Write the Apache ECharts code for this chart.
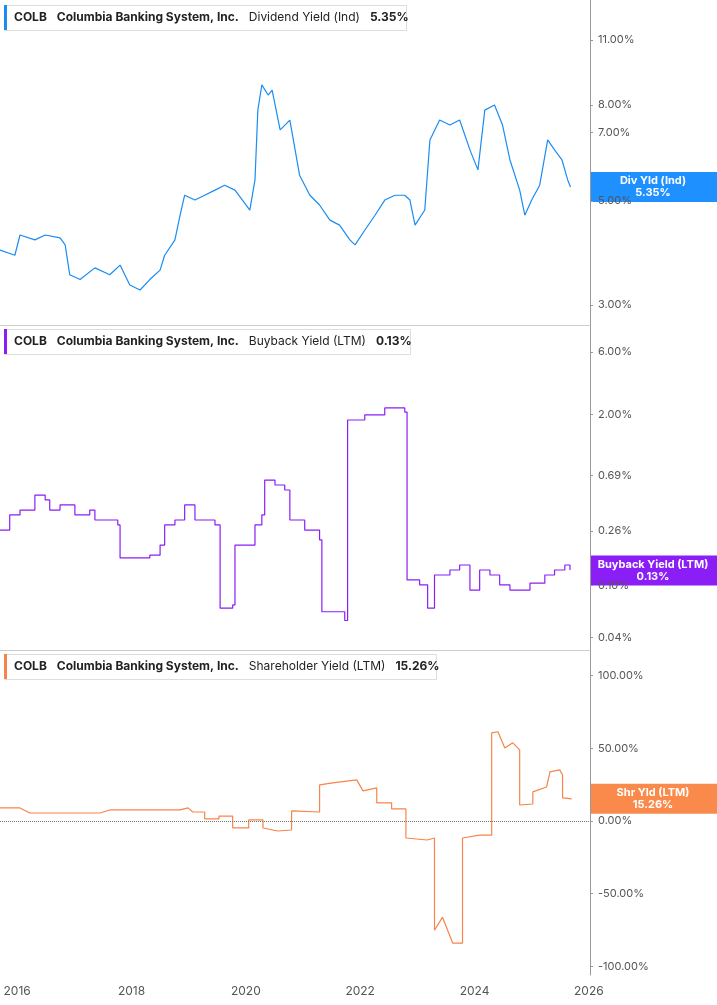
<!DOCTYPE html>
<html><head><meta charset="utf-8">
<script src="https://cdn.jsdelivr.net/npm/echarts@6/dist/echarts.min.js"></script>
<style>html,body{margin:0;padding:0;background:#fff}#c{width:717px;height:1005px}</style>
</head><body><div id="c"></div>
<script>
// ---- data ----
const divYears = [2015.70,2015.96,2016.05,2016.31,2016.49,2016.75,2016.84,2016.92,2017.10,2017.36,2017.62,2017.80,2017.97,2018.15,2018.32,2018.50,2018.58,2018.76,2018.85,2018.93,2019.11,2019.28,2019.46,2019.63,2019.81,2020.07,2020.16,2020.21,2020.28,2020.39,2020.46,2020.60,2020.77,2020.94,2021.12,2021.29,2021.47,2021.64,2021.82,2021.91,2022.08,2022.26,2022.43,2022.61,2022.78,2022.87,2022.96,2023.13,2023.22,2023.39,2023.57,2023.74,2023.92,2024.06,2024.18,2024.35,2024.49,2024.62,2024.79,2024.88,2025.00,2025.14,2025.28,2025.40,2025.53,2025.63,2025.68];
const divValues = [3.93,3.83,4.23,4.13,4.23,4.17,4.03,3.48,3.40,3.60,3.48,3.65,3.31,3.23,3.40,3.56,3.83,4.13,4.66,5.14,5.02,5.14,5.27,5.40,5.27,4.78,5.54,7.80,8.83,8.40,8.60,7.08,7.43,5.67,5.14,4.90,4.55,4.44,4.13,4.03,4.33,4.66,5.02,5.14,5.14,5.02,4.44,4.78,6.74,7.43,7.25,7.43,6.42,5.82,7.80,8.00,7.25,6.11,5.27,4.66,5.02,5.40,6.74,6.42,6.11,5.54,5.35];
const bbYears = [2015.70,2015.87,2016.05,2016.31,2016.49,2016.57,2016.75,2017.01,2017.27,2017.36,2017.76,2017.80,2018.32,2018.50,2018.58,2018.76,2018.93,2019.11,2019.46,2019.55,2019.77,2019.81,2020.07,2020.16,2020.28,2020.33,2020.51,2020.68,2020.77,2021.03,2021.29,2021.33,2021.73,2021.78,2022.08,2022.43,2022.78,2022.82,2023.04,2023.18,2023.30,2023.57,2023.74,2023.92,2024.09,2024.27,2024.44,2024.62,2024.79,2024.97,2025.23,2025.40,2025.58,2025.67];
const bbValues = [0.264,0.344,0.375,0.488,0.448,0.375,0.410,0.344,0.375,0.315,0.289,0.162,0.170,0.203,0.289,0.315,0.410,0.315,0.289,0.067,0.071,0.203,0.203,0.289,0.344,0.635,0.582,0.533,0.315,0.264,0.222,0.063,0.054,1.82,1.99,2.25,2.09,0.110,0.101,0.067,0.120,0.131,0.143,0.092,0.131,0.120,0.101,0.092,0.092,0.104,0.120,0.131,0.143,0.131];
const shYears = [2015.70,2016.05,2016.22,2017.45,2017.62,2018.85,2018.99,2019.07,2019.28,2019.28,2019.53,2019.53,2019.77,2019.77,2020.05,2020.05,2020.30,2020.30,2020.56,2020.80,2020.80,2021.29,2021.29,2021.52,2021.94,2022.05,2022.29,2022.29,2022.55,2022.55,2022.80,2022.80,2023.17,2023.30,2023.30,2023.44,2023.62,2023.79,2023.79,2024.09,2024.30,2024.30,2024.41,2024.53,2024.67,2024.79,2024.79,2025.02,2025.02,2025.26,2025.32,2025.49,2025.54,2025.54,2025.70];
const shValues = [9.0,9.0,5.5,5.5,7.6,7.6,9.0,6.2,6.2,1.4,1.4,3.4,3.4,-4.8,-4.8,0.7,0.7,-4.8,-6.9,-6.2,6.9,6.2,24.8,26.2,28.3,20.7,22.8,12.4,12.4,8.3,8.3,-11.7,-13.1,-11.7,-75.2,-66.2,-84.1,-84.1,-11.7,-9.7,-9.7,60.7,61.4,50.3,53.8,49.0,11.0,11.7,20.0,23.4,33.8,35.2,31.7,15.9,15.26];
const divTicks = [11,8,7,5,3];
const bbTicks = [6,2,0.69,0.26,0.10,0.04];
const shTicks = [100,50,0,-50,-100];
const yearTicks = [2016,2018,2020,2022,2024,2026];
const divLast = 5.35, bbLast = 0.13, shLast = 15.26;
// ---- chart ----
const C1='#1a8cf2', C2='#8a1ef5', C3='#f7844a';
const chart = echarts.init(document.getElementById('c'));
const font = 'Inter, "Noto Sans", sans-serif';
const xMin = 2015.70, xMax = 2026.02;
function xAxis(i, show){
  return {type:'value', gridIndex:i, min:xMin, max:xMax,
    axisLine:{show:false, onZero:false}, splitLine:{show:false},
    axisTick:{show:false},
    axisLabel:{show:show, customValues:yearTicks, color:'#555', fontSize:12, fontFamily:font, margin:10, formatter:v=>String(Math.round(v))}};
}
function yAxis(i, min, max, ticks, log){
  return {type:'value', gridIndex:i, position:'right', min:min, max:max,
    axisLine:{show:true, lineStyle:{color:'#999'}}, splitLine:{show:false},
    axisTick:{show:true, length:3, customValues: ticks.map(t=>log?Math.log(t):t), lineStyle:{color:'#999'}},
    axisLabel:{customValues: ticks.map(t=>log?Math.log(t):t), color:'#555', fontSize:11, fontFamily:font, margin:8,
      formatter:v=>(log?Math.exp(v):v).toFixed(2)+'%'}};
}
const grids=[{left:0,right:127,top:0,height:325},{left:0,right:127,top:326,height:324},{left:0,right:127,top:651,height:324}];
chart.setOption({
  animation:false,
  grid:grids,
  xAxis:[xAxis(0,false),xAxis(1,false),xAxis(2,true)],
  yAxis:[yAxis(0,1.001,2.594,divTicks,true), yAxis(1,-3.436,2.248,bbTicks,true), yAxis(2,-106,117,shTicks,false)],
  series:[
    {type:'line',xAxisIndex:0,yAxisIndex:0,symbol:'none',lineStyle:{color:C1,width:1.2},data:divYears.map((y,i)=>[y,Math.log(divValues[i])])},
    {type:'line',xAxisIndex:1,yAxisIndex:1,symbol:'none',step:'end',lineStyle:{color:C2,width:1.2},data:bbYears.map((y,i)=>[y,Math.log(bbValues[i])])},
    {type:'line',xAxisIndex:2,yAxisIndex:2,symbol:'none',lineStyle:{color:C3,width:1.2},data:shYears.map((y,i)=>[y,shValues[i]]),
      markLine:{silent:true,symbol:'none',label:{show:false},lineStyle:{color:'#777',type:'dotted',width:1},data:[{yAxis:0}]}}
  ]
});
function legend(y, color, name, val, w){
  return [
    {type:'rect',left:4,top:y,shape:{width:w,height:25},style:{fill:'#fff',stroke:'#ddd',lineWidth:1}},
    {type:'rect',left:4,top:y,shape:{width:3,height:25},style:{fill:color}},
    {type:'text',left:14,top:y+6,style:{text:'{b|COLB}   {b|Columbia Banking System, Inc.}   {n|'+name+'}   {b|'+val+'}',
      rich:{b:{fontWeight:'bold',fontSize:12,fill:'#222',fontFamily:font},n:{fontSize:12,fill:'#222',fontFamily:font}}}}
  ];
}
function tag(gi, yv, color, title, val){
  const p = chart.convertToPixel({gridIndex:gi},[xMax,yv]);
  return [
    {type:'rect',shape:{x:590,y:p[1]-15,width:127,height:30},style:{fill:color}},
    {type:'text',style:{x:653,y:p[1]-12,text:title+'\n'+val,align:'center',verticalAlign:'top',fill:'#fff',fontWeight:'bold',fontSize:11,lineHeight:12,fontFamily:font}}
  ];
}
chart.setOption({graphic:[
  {type:'line',shape:{x1:0,y1:325.5,x2:590,y2:325.5},style:{stroke:'#ccc'}},
  {type:'line',shape:{x1:0,y1:650.5,x2:590,y2:650.5},style:{stroke:'#ccc'}},
  ...legend(5,C1,'Dividend Yield (Ind)','5.35%',402),
  ...legend(329,C2,'Buyback Yield (LTM)','0.13%',406),
  ...legend(654,C3,'Shareholder Yield (LTM)','15.26%',432),
  ...tag(0,Math.log(divLast),'#1e90ff','Div Yld (Ind)','5.35%'),
  ...tag(1,Math.log(bbLast),'#8b1ef7','Buyback Yield (LTM)','0.13%'),
  ...tag(2,shLast,'#fa8a4c','Shr Yld (LTM)','15.26%')
]});
</script></body></html>
